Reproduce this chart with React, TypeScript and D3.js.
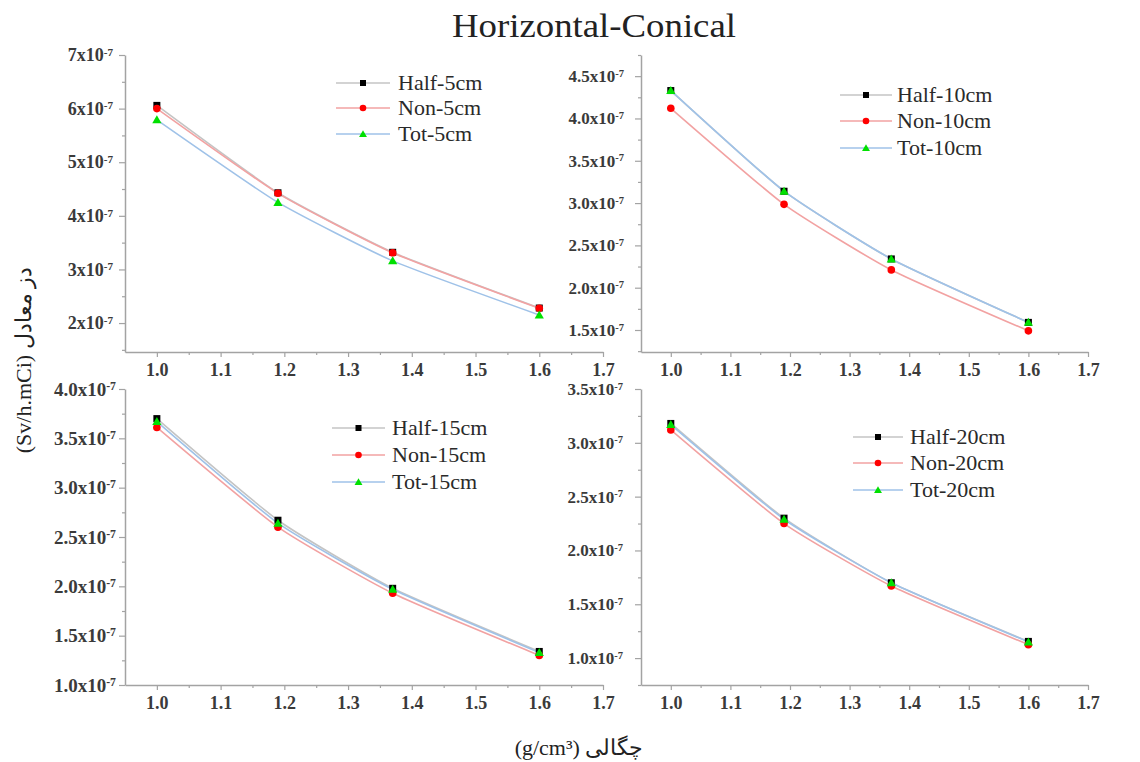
import React, { useEffect, useRef } from "react";
import * as d3 from "d3";

// densities (g/cm3) on the x axis
const densities = [1.0, 1.19, 1.37, 1.6];
const xTickValues = [1.0, 1.1, 1.2, 1.3, 1.4, 1.5, 1.6, 1.7];

// dose values, in units of 1e-7 Sv/h.mCi
const half5 = [6.06, 4.43, 3.32, 2.28];
const non5 = [6.0, 4.42, 3.31, 2.275];
const tot5 = [5.79, 4.25, 3.16, 2.15];

const half10 = [4.33, 3.14, 2.34, 1.59];
const non10 = [4.12, 2.985, 2.21, 1.49];
const tot10 = [4.33, 3.14, 2.34, 1.59];

const half15 = [3.7, 2.67, 1.98, 1.34];
const non15 = [3.61, 2.6, 1.93, 1.3];
const tot15 = [3.67, 2.64, 1.97, 1.33];

const half20 = [3.18, 2.3, 1.7, 1.155];
const non20 = [3.12, 2.25, 1.67, 1.125];
const tot20 = [3.17, 2.29, 1.7, 1.15];

const thicknesses = ["5cm", "10cm", "15cm", "20cm"];
const yTicks5 = [2, 3, 4, 5, 6, 7];
const yTicks10 = [1.5, 2.0, 2.5, 3.0, 3.5, 4.0, 4.5];
const yTicks15 = [1.0, 1.5, 2.0, 2.5, 3.0, 3.5, 4.0];
const yTicks20 = [1.0, 1.5, 2.0, 2.5, 3.0, 3.5];

const titleText = "Horizontal-Conical";
const yLabel = "(Sv/h.mCi) دز معادل";
const xLabel = "(g/cm³) چگالی";

// panel layout (pixels), kept apart from the data
const layout = [
  { left: 125, right: 603, top: 55, bottom: 352, yDomain: [1.46, 7.0], minor: 0.5, decimals: 0, font: 18, pad: 6,
    legend: { x0: 336, x1: 390, tx: 398, rows: [83, 108, 134] } },
  { left: 641, right: 1088, top: 55, bottom: 352, yDomain: [1.24, 4.75], minor: 0.25, decimals: 1, font: 17, pad: 11,
    legend: { x0: 840, x1: 892, tx: 897, rows: [95, 121, 148] } },
  { left: 125, right: 603, top: 389, bottom: 685, yDomain: [1.0, 4.0], minor: 0.25, decimals: 1, font: 19, pad: 3,
    legend: { x0: 332, x1: 385, tx: 392, rows: [428, 455, 482] } },
  { left: 641, right: 1088, top: 389, bottom: 685, yDomain: [0.75, 3.5], minor: 0.25, decimals: 1, font: 17, pad: 12,
    legend: { x0: 853, x1: 903, tx: 910, rows: [437, 463, 490] } },
];

const seriesStyle = [
  { name: "Half", line: "#c4c4c4", fill: "#000000", shape: "square" },
  { name: "Non", line: "#f2a2a2", fill: "#ff0000", shape: "circle" },
  { name: "Tot", line: "#9fc2e8", fill: "#00e000", shape: "triangle" },
];

const AXIS = "#a3a3a3";
const SERIF = "'Liberation Serif', 'Times New Roman', 'DejaVu Serif', serif";

function drawMarker(g, shape, fill, x, y, size) {
  if (shape === "square") {
    g.append("rect").attr("x", x - size / 2).attr("y", y - size / 2)
      .attr("width", size).attr("height", size).attr("fill", fill);
  } else if (shape === "circle") {
    g.append("circle").attr("cx", x).attr("cy", y).attr("r", size / 2 + 0.3).attr("fill", fill);
  } else {
    const sym = d3.symbol().type(d3.symbolTriangle).size(size * size * 0.75);
    g.append("path").attr("d", sym()).attr("transform", `translate(${x},${y + 0.8})`).attr("fill", fill);
  }
}

export default function App() {
  const ref = useRef(null);

  useEffect(() => {
    const svg = d3.select(ref.current);
    svg.selectAll("*").remove();

    const panelData = [
      [half5, non5, tot5],
      [half10, non10, tot10],
      [half15, non15, tot15],
      [half20, non20, tot20],
    ];
    const yTickSets = [yTicks5, yTicks10, yTicks15, yTicks20];

    layout.forEach((p, i) => {
      const g = svg.append("g");
      const x = d3.scaleLinear().domain([0.95, 1.7]).range([p.left, p.right]);
      const y = d3.scaleLinear().domain(p.yDomain).range([p.bottom, p.top]);

      // x axis: minor then major
      const xMinor = d3.range(1.05, 1.7, 0.1);
      g.append("g").attr("transform", `translate(0,${p.bottom})`)
        .call(d3.axisBottom(x).tickValues(xMinor).tickSize(3).tickSizeOuter(0).tickFormat(() => ""))
        .call((a) => a.select(".domain").remove());
      const xa = g.append("g").attr("transform", `translate(0,${p.bottom})`)
        .call(d3.axisBottom(x).tickValues(xTickValues).tickSize(5).tickPadding(6).tickSizeOuter(0).tickFormat(d3.format(".1f")));
      xa.selectAll("text").attr("font-family", SERIF).attr("font-weight", "bold").attr("font-size", 18).attr("fill", "#3a3a3a");

      // y axis
      const yt = yTickSets[i];
      const yMinor = d3.range(p.yDomain[0], p.yDomain[1] + 1e-9, 0.05)
        .map((v) => Math.round(v / p.minor) * p.minor)
        .filter((v, k, arr) => arr.indexOf(v) === k && v >= p.yDomain[0] && v <= p.yDomain[1] && !yt.some((t) => Math.abs(t - v) < 1e-6));
      g.append("g").attr("transform", `translate(${p.left},0)`)
        .call(d3.axisLeft(y).tickValues(yMinor).tickSize(3).tickSizeOuter(0).tickFormat(() => ""))
        .call((a) => a.select(".domain").remove());
      const ya = g.append("g").attr("transform", `translate(${p.left},0)`)
        .call(d3.axisLeft(y).tickValues(yt).tickSize(6).tickPadding(p.pad).tickSizeOuter(0).tickFormat(() => ""));
      ya.selectAll(".tick text").each(function (d) {
        const t = d3.select(this)
          .attr("font-family", SERIF).attr("font-weight", "bold").attr("font-size", p.font).attr("fill", "#3a3a3a");
        t.append("tspan").text(`${d3.format(`.${p.decimals}f`)(d)}x10`);
        t.append("tspan").attr("dy", "-0.5em").attr("font-size", p.font * 0.62).text("-7");
      });

      [xa, ya].forEach((a) => {
        a.select(".domain").attr("stroke", AXIS).attr("stroke-width", 1.5);
      });
      g.selectAll(".tick line").attr("stroke", AXIS).attr("stroke-width", 1.2);

      // series lines
      const line = d3.line().x((d) => x(d[0])).y((d) => y(d[1])).curve(d3.curveCardinal.tension(0.5));
      const series = panelData[i];
      series.forEach((vals, s) => {
        g.append("path")
          .datum(vals.map((v, k) => [densities[k], v]))
          .attr("fill", "none").attr("stroke", seriesStyle[s].line).attr("stroke-width", 1.6)
          .attr("d", line);
      });
      series.forEach((vals, s) => {
        vals.forEach((v, k) => drawMarker(g, seriesStyle[s].shape, seriesStyle[s].fill, x(densities[k]), y(v), 7));
      });

      // legend
      const L = p.legend;
      seriesStyle.forEach((st, s) => {
        const ry = L.rows[s];
        g.append("line").attr("x1", L.x0).attr("x2", L.x1).attr("y1", ry).attr("y2", ry)
          .attr("stroke", st.line).attr("stroke-width", 1.4);
        drawMarker(g, st.shape, st.fill, (L.x0 + L.x1) / 2, ry, 6);
        g.append("text").attr("x", L.tx).attr("y", ry).attr("dy", "0.34em")
          .attr("font-family", SERIF).attr("font-size", 22).attr("fill", "#2a2a2a")
          .text(`${st.name}-${thicknesses[i]}`);
      });
    });

    // title and axis labels
    svg.append("text").attr("x", 594).attr("y", 37).attr("text-anchor", "middle")
      .attr("font-family", SERIF).attr("font-size", 33).attr("fill", "#222")
      .attr("textLength", 284).attr("lengthAdjust", "spacingAndGlyphs")
      .text(titleText);
    svg.append("text").attr("transform", "translate(23,360) rotate(-90)").attr("text-anchor", "middle")
      .attr("dy", "0.35em").attr("font-family", SERIF).attr("font-size", 22).attr("fill", "#222")
      .text(yLabel);
    svg.append("text").attr("x", 579).attr("y", 755).attr("text-anchor", "middle")
      .attr("font-family", SERIF).attr("font-size", 22).attr("fill", "#222")
      .text(xLabel);
  }, []);

  return (
    <svg ref={ref} width={1140} height={762} viewBox="0 0 1140 762"
      style={{ position: "absolute", left: 0, top: 0, background: "#fff" }} />
  );
}
